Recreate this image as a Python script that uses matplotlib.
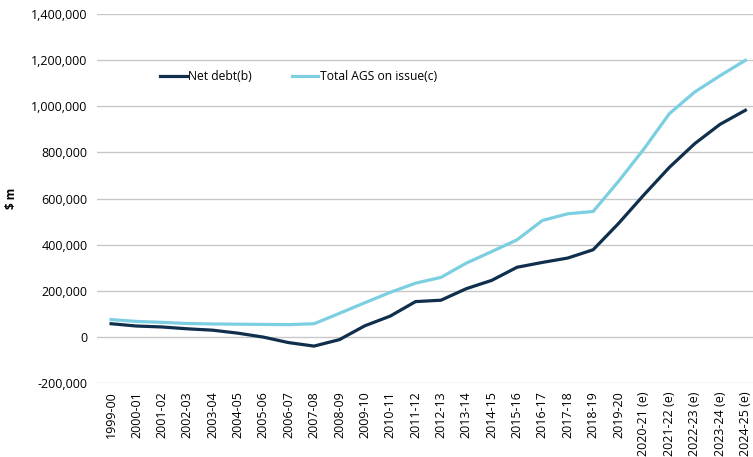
import matplotlib
matplotlib.use("Agg")
from matplotlib import pyplot as plt
from matplotlib.ticker import FuncFormatter

anos = ['1999-00', '2000-01', '2001-02', '2002-03', '2003-04', '2004-05',
        '2005-06', '2006-07', '2007-08', '2008-09', '2009-10', '2010-11',
        '2011-12', '2012-13', '2013-14', '2014-15', '2015-16', '2016-17',
        '2017-18', '2018-19', '2019-20', '2020-21 (e)', '2021-22 (e)',
        '2022-23 (e)', '2023-24 (e)', '2024-25 (e)']

net_debt = [57000, 47000, 43000, 35000, 29000, 16000, -1000, -25000, -40000,
            -12000, 48000, 90000, 153000, 159000, 209000, 245000, 302000,
            323000, 342000, 378000, 492000, 616000, 735000, 838000, 922000,
            983000]

total_ags = [75000, 67000, 63000, 58000, 56000, 55000, 54000, 53000, 57000,
             102000, 148000, 193000, 233000, 258000, 320000, 370000, 421000,
             505000, 534000, 544000, 675000, 815000, 968000, 1062000, 1133000,
             1200000]

escuro = '#0f2f4d'
claro = '#7bcfe0'

plt.rcParams['font.family'] = ['Open Sans', 'DejaVu Sans']

fig = plt.figure(figsize=(7.53, 4.57), dpi=100)
ax = fig.add_axes([0.129, 0.162, 0.871, 0.807])

x = list(range(len(anos)))
ax.plot(x, total_ags, color=claro, linewidth=2.3, label='Total AGS on issue(c)', zorder=3)
ax.plot(x, net_debt, color=escuro, linewidth=2.3, label='Net debt(b)', zorder=4)

ax.set_ylim(-200000, 1400000)
ax.set_yticks(range(-200000, 1400001, 200000))
ax.yaxis.set_major_formatter(FuncFormatter(lambda v, p: f'{int(v):,}'))
ax.set_xlim(-0.55, 25.3)
ax.set_xticks(x)
ax.set_xticklabels(anos, rotation=90, fontsize=9)
ax.tick_params(axis='y', labelsize=9, length=0, pad=7)
ax.tick_params(axis='x', length=0, pad=6)

ax.grid(axis='y', color='#c8c8c8', linewidth=1.0)
ax.set_axisbelow(True)
for s in ax.spines.values():
    s.set_visible(False)

ax.set_ylabel('$ m', fontsize=8.5, fontweight='bold')
ax.yaxis.set_label_coords(-0.12, 0.5)

handles, labels = ax.get_legend_handles_labels()
ax.legend(handles[::-1], labels[::-1], ncol=2, frameon=False, fontsize=8.7,
          loc='center left', bbox_to_anchor=(0.08, 0.83),
          handlelength=2.2, handletextpad=0.1, columnspacing=3.3)

fig.savefig('out.png', dpi=100)
